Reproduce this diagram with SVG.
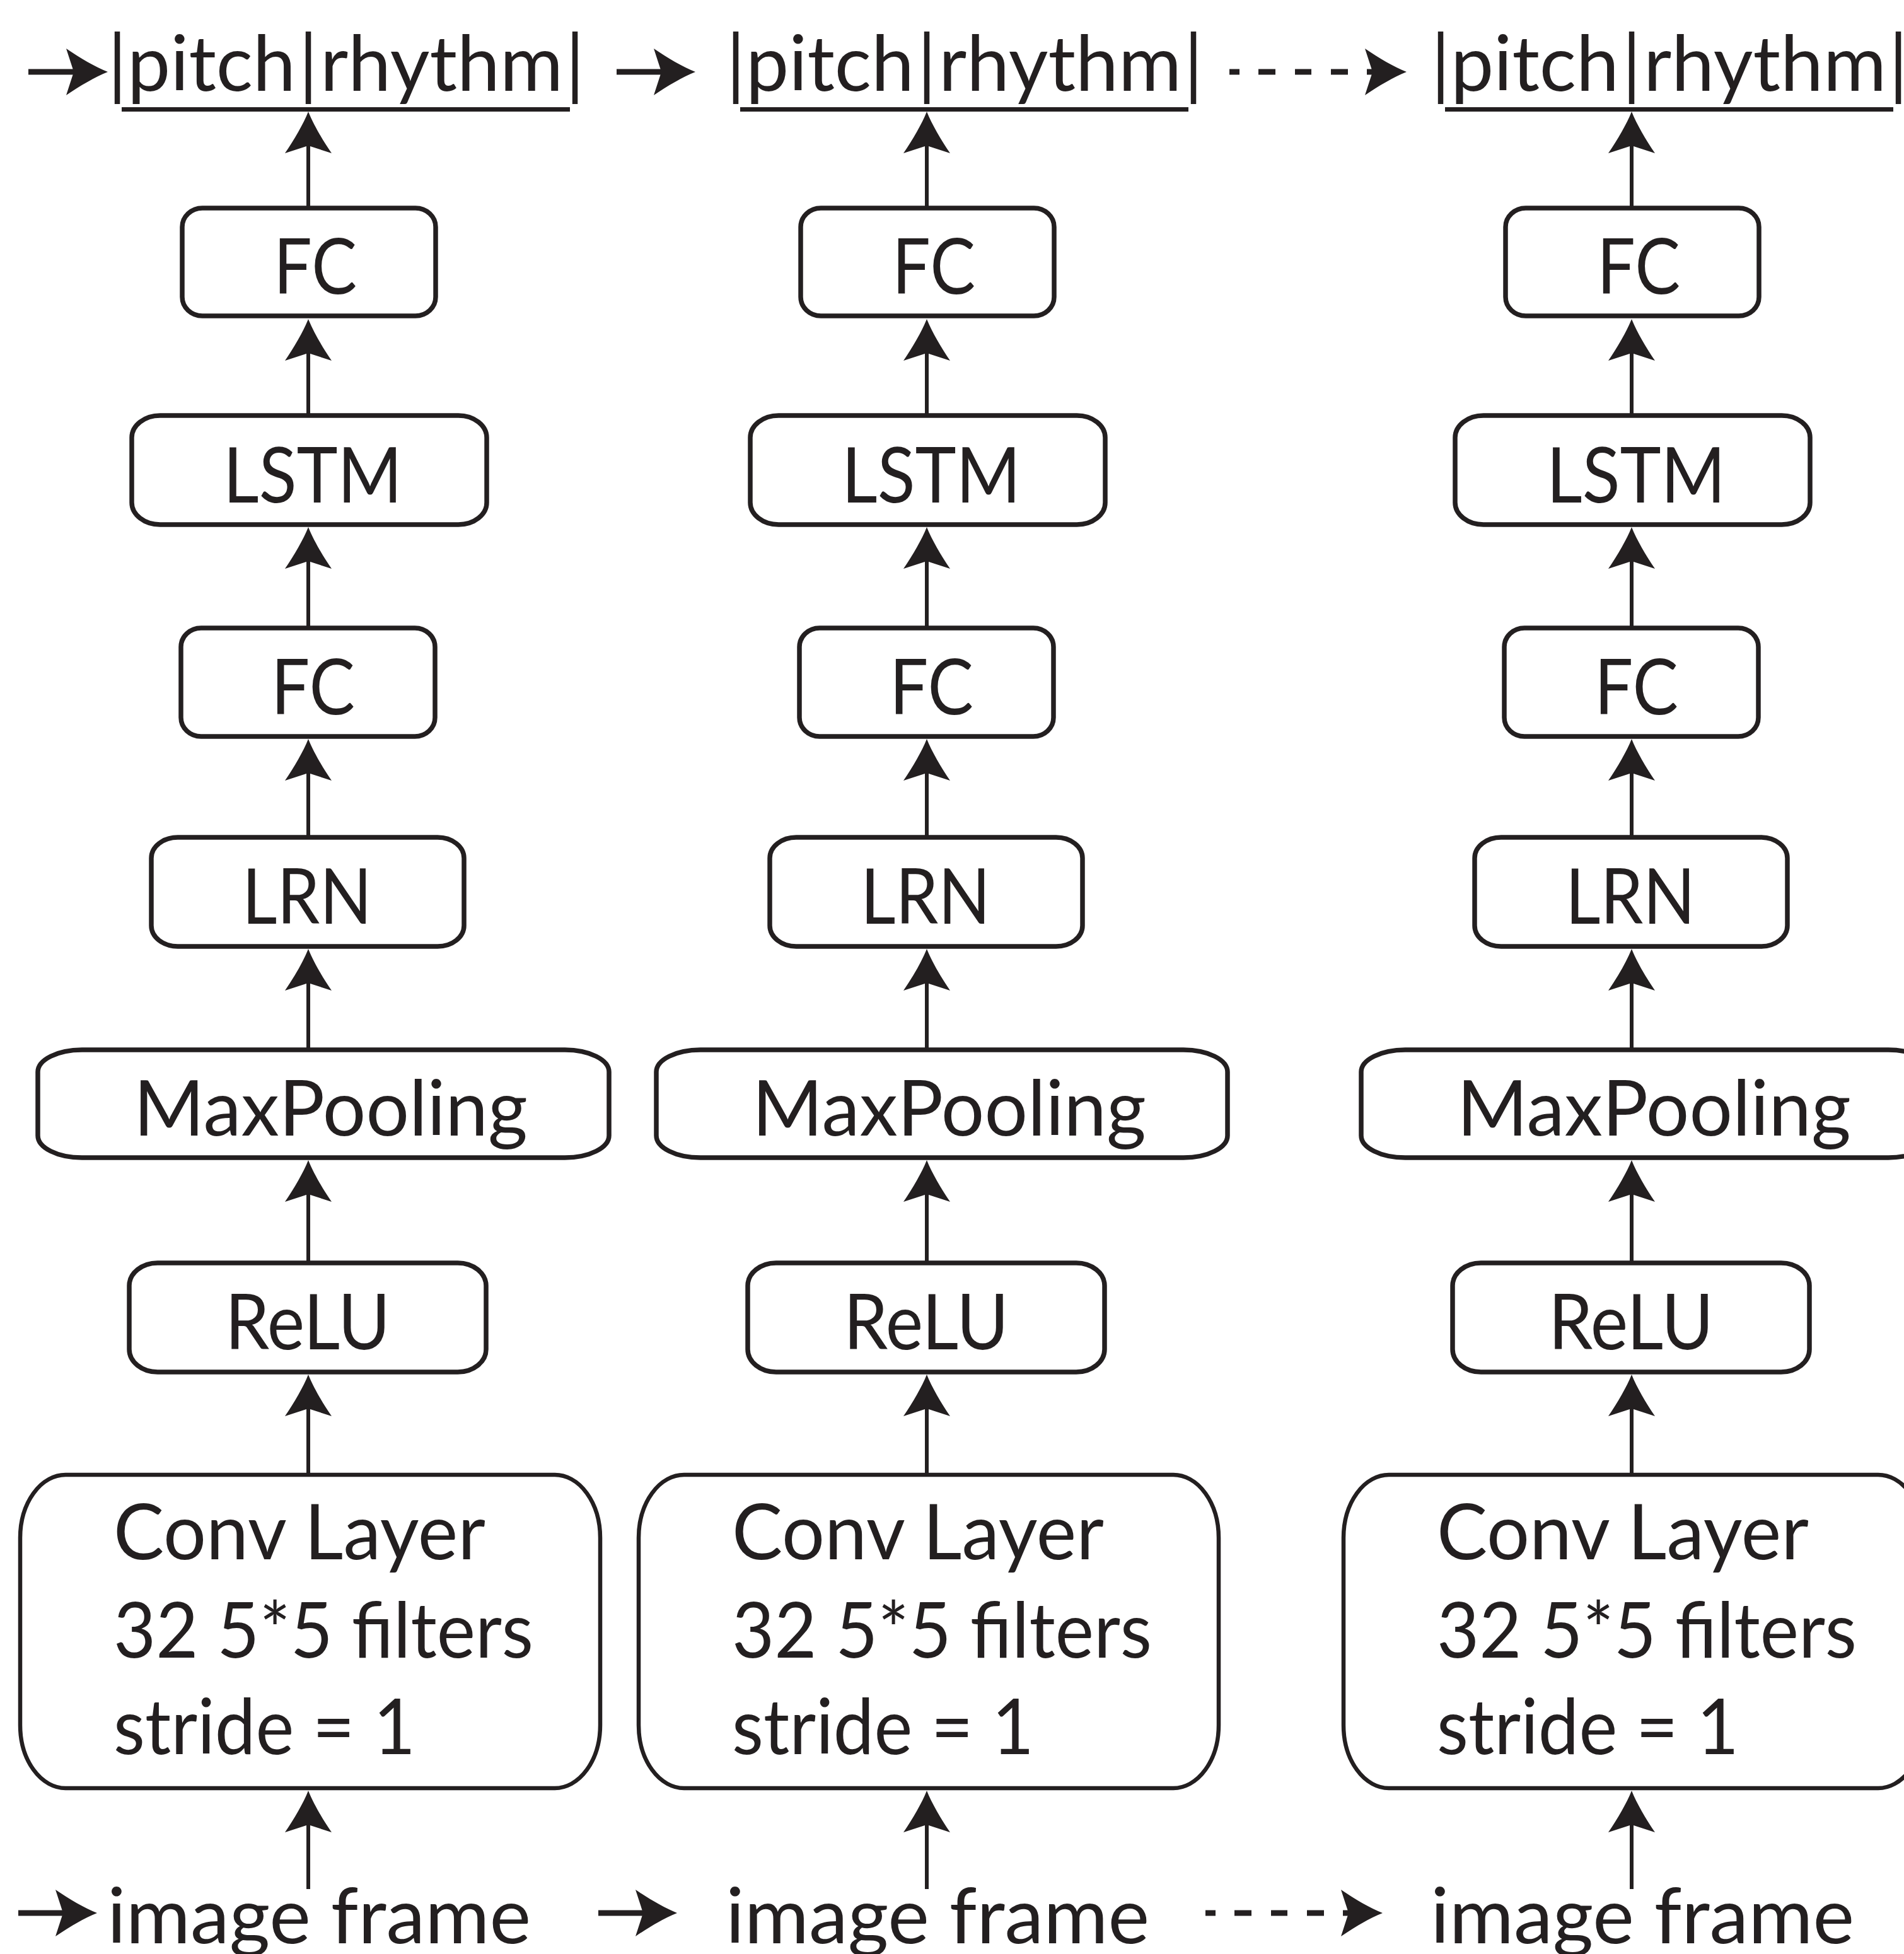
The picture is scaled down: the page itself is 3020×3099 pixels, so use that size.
<svg xmlns="http://www.w3.org/2000/svg" width="3020" height="3099" viewBox="0 0 3020 3099">
<style>
.box{fill:#fff;stroke:#231f20;stroke-width:7.5}
.conv{stroke-width:6.5}
.t{font-family:Lato,"Open Sans","Liberation Sans",sans-serif;font-size:122px;fill:#231f20;text-anchor:middle}
.ts{text-anchor:start}
.conn{stroke:#231f20;stroke-width:6;fill:none;marker-end:url(#ah)}
.h{stroke-width:9}
.dt{stroke-dasharray:16 30 27 31 26 31 27 30 27}
.ul{stroke:#231f20;stroke-width:7}
</style>
<defs>
<marker id="ah" viewBox="-15 -40 75 80" markerWidth="75" markerHeight="80" refX="0" refY="0" orient="auto" markerUnits="userSpaceOnUse">
<path d="M54,0 C34,-8 10,-22 -12,-37 L0,0 L-12,37 C10,22 34,8 54,0 Z" fill="#231f20"/>
</marker>
</defs>
<rect width="3020" height="3099" fill="#fff"/>

<g id="connectors">
<line class="conn h" x1="45" y1="114" x2="117" y2="114"/>
<line class="conn h" x1="978" y1="114" x2="1049" y2="114"/>
<line class="conn h dt" x1="1950" y1="114" x2="2177" y2="114"/>
<line class="conn h" x1="29" y1="3034" x2="100" y2="3034"/>
<line class="conn h" x1="949" y1="3034" x2="1020" y2="3034"/>
<line class="conn h dt" x1="1912" y1="3034" x2="2139" y2="3034"/>
<g id="conn-col1">
<line class="conn" x1="489" y1="330" x2="489" y2="231"/>
<line class="conn" x1="489" y1="659" x2="489" y2="560"/>
<line class="conn" x1="489" y1="996" x2="489" y2="890"/>
<line class="conn" x1="489" y1="1328" x2="489" y2="1226"/>
<line class="conn" x1="489" y1="1665" x2="489" y2="1559"/>
<line class="conn" x1="489" y1="2003" x2="489" y2="1894"/>
<line class="conn" x1="489" y1="2339" x2="489" y2="2234"/>
<line class="conn" x1="489" y1="2996" x2="489" y2="2894"/>
</g>
<g id="conn-col2" transform="translate(981,0)">
<line class="conn" x1="489" y1="330" x2="489" y2="231"/>
<line class="conn" x1="489" y1="659" x2="489" y2="560"/>
<line class="conn" x1="489" y1="996" x2="489" y2="890"/>
<line class="conn" x1="489" y1="1328" x2="489" y2="1226"/>
<line class="conn" x1="489" y1="1665" x2="489" y2="1559"/>
<line class="conn" x1="489" y1="2003" x2="489" y2="1894"/>
<line class="conn" x1="489" y1="2339" x2="489" y2="2234"/>
<line class="conn" x1="489" y1="2996" x2="489" y2="2894"/>
</g>
<g id="conn-col3" transform="translate(2099,0)">
<line class="conn" x1="489" y1="330" x2="489" y2="231"/>
<line class="conn" x1="489" y1="659" x2="489" y2="560"/>
<line class="conn" x1="489" y1="996" x2="489" y2="890"/>
<line class="conn" x1="489" y1="1328" x2="489" y2="1226"/>
<line class="conn" x1="489" y1="1665" x2="489" y2="1559"/>
<line class="conn" x1="489" y1="2003" x2="489" y2="1894"/>
<line class="conn" x1="489" y1="2339" x2="489" y2="2234"/>
<line class="conn" x1="489" y1="2996" x2="489" y2="2894"/>
</g>
</g>

<g id="col1">
<g id="out1"><text class="t" y="144"><tspan x="186">|</tspan><tspan x="335.5" textLength="267" lengthAdjust="spacingAndGlyphs">pitch</tspan><tspan x="489">|</tspan><tspan x="700.5" textLength="385" lengthAdjust="spacingAndGlyphs">rhythm</tspan><tspan x="912">|</tspan></text><line class="ul" x1="193" y1="173.5" x2="904" y2="173.5"/></g>
<g id="fc1a"><rect class="box" x="289" y="330" width="402" height="171" rx="32" ry="30"/><text class="t" x="500" y="466" textLength="132" lengthAdjust="spacingAndGlyphs">FC</text></g>
<g id="lstm1"><rect class="box" x="209" y="659" width="563" height="173" rx="45" ry="35"/><text class="t" x="496" y="797" textLength="284" lengthAdjust="spacingAndGlyphs">LSTM</text></g>
<g id="fc1b"><rect class="box" x="287" y="996" width="403" height="172" rx="32" ry="30"/><text class="t" x="496.5" y="1133" textLength="133" lengthAdjust="spacingAndGlyphs">FC</text></g>
<g id="lrn1"><rect class="box" x="240" y="1328" width="496" height="173" rx="42" ry="33"/><text class="t" x="487" y="1465" textLength="206" lengthAdjust="spacingAndGlyphs">LRN</text></g>
<g id="pool1"><rect class="box" x="60" y="1665" width="906" height="171" rx="70" ry="35"/><text class="t" x="524.5" y="1801" textLength="625" lengthAdjust="spacingAndGlyphs">MaxPooling</text></g>
<g id="relu1"><rect class="box" x="205" y="2003" width="566" height="173" rx="45" ry="36"/><text class="t" x="488" y="2140" textLength="262" lengthAdjust="spacingAndGlyphs">ReLU</text></g>
<g id="conv1"><rect class="box conv" x="32" y="2339" width="920" height="497" rx="72" ry="100"/><text class="t ts" x="180" y="2473" textLength="590" lengthAdjust="spacingAndGlyphs">Conv Layer</text><text class="t ts" x="180" y="2629" textLength="666" lengthAdjust="spacingAndGlyphs">32 5*5 filters</text><text class="t ts" x="180" y="2782" textLength="479" lengthAdjust="spacingAndGlyphs">stride = 1</text></g>
<g id="img1"><text class="t" x="506" y="3082" textLength="672" lengthAdjust="spacingAndGlyphs">image frame</text></g>
</g>

<g id="col2" transform="translate(981,0)">
<g id="out2"><text class="t" y="144"><tspan x="186">|</tspan><tspan x="335.5" textLength="267" lengthAdjust="spacingAndGlyphs">pitch</tspan><tspan x="489">|</tspan><tspan x="700.5" textLength="385" lengthAdjust="spacingAndGlyphs">rhythm</tspan><tspan x="912">|</tspan></text><line class="ul" x1="193" y1="173.5" x2="904" y2="173.5"/></g>
<g id="fc2a"><rect class="box" x="289" y="330" width="402" height="171" rx="32" ry="30"/><text class="t" x="500" y="466" textLength="132" lengthAdjust="spacingAndGlyphs">FC</text></g>
<g id="lstm2"><rect class="box" x="209" y="659" width="563" height="173" rx="45" ry="35"/><text class="t" x="496" y="797" textLength="284" lengthAdjust="spacingAndGlyphs">LSTM</text></g>
<g id="fc2b"><rect class="box" x="287" y="996" width="403" height="172" rx="32" ry="30"/><text class="t" x="496.5" y="1133" textLength="133" lengthAdjust="spacingAndGlyphs">FC</text></g>
<g id="lrn2"><rect class="box" x="240" y="1328" width="496" height="173" rx="42" ry="33"/><text class="t" x="487" y="1465" textLength="206" lengthAdjust="spacingAndGlyphs">LRN</text></g>
<g id="pool2"><rect class="box" x="60" y="1665" width="906" height="171" rx="70" ry="35"/><text class="t" x="524.5" y="1801" textLength="625" lengthAdjust="spacingAndGlyphs">MaxPooling</text></g>
<g id="relu2"><rect class="box" x="205" y="2003" width="566" height="173" rx="45" ry="36"/><text class="t" x="488" y="2140" textLength="262" lengthAdjust="spacingAndGlyphs">ReLU</text></g>
<g id="conv2"><rect class="box conv" x="32" y="2339" width="920" height="497" rx="72" ry="100"/><text class="t ts" x="180" y="2473" textLength="590" lengthAdjust="spacingAndGlyphs">Conv Layer</text><text class="t ts" x="180" y="2629" textLength="666" lengthAdjust="spacingAndGlyphs">32 5*5 filters</text><text class="t ts" x="180" y="2782" textLength="479" lengthAdjust="spacingAndGlyphs">stride = 1</text></g>
<g id="img2"><text class="t" x="506" y="3082" textLength="672" lengthAdjust="spacingAndGlyphs">image frame</text></g>
</g>

<g id="col3" transform="translate(2099,0)">
<g id="out3"><text class="t" y="144"><tspan x="186">|</tspan><tspan x="335.5" textLength="267" lengthAdjust="spacingAndGlyphs">pitch</tspan><tspan x="489">|</tspan><tspan x="700.5" textLength="385" lengthAdjust="spacingAndGlyphs">rhythm</tspan><tspan x="912">|</tspan></text><line class="ul" x1="193" y1="173.5" x2="904" y2="173.5"/></g>
<g id="fc3a"><rect class="box" x="289" y="330" width="402" height="171" rx="32" ry="30"/><text class="t" x="500" y="466" textLength="132" lengthAdjust="spacingAndGlyphs">FC</text></g>
<g id="lstm3"><rect class="box" x="209" y="659" width="563" height="173" rx="45" ry="35"/><text class="t" x="496" y="797" textLength="284" lengthAdjust="spacingAndGlyphs">LSTM</text></g>
<g id="fc3b"><rect class="box" x="287" y="996" width="403" height="172" rx="32" ry="30"/><text class="t" x="496.5" y="1133" textLength="133" lengthAdjust="spacingAndGlyphs">FC</text></g>
<g id="lrn3"><rect class="box" x="240" y="1328" width="496" height="173" rx="42" ry="33"/><text class="t" x="487" y="1465" textLength="206" lengthAdjust="spacingAndGlyphs">LRN</text></g>
<g id="pool3"><rect class="box" x="60" y="1665" width="906" height="171" rx="70" ry="35"/><text class="t" x="524.5" y="1801" textLength="625" lengthAdjust="spacingAndGlyphs">MaxPooling</text></g>
<g id="relu3"><rect class="box" x="205" y="2003" width="566" height="173" rx="45" ry="36"/><text class="t" x="488" y="2140" textLength="262" lengthAdjust="spacingAndGlyphs">ReLU</text></g>
<g id="conv3"><rect class="box conv" x="32" y="2339" width="920" height="497" rx="72" ry="100"/><text class="t ts" x="180" y="2473" textLength="590" lengthAdjust="spacingAndGlyphs">Conv Layer</text><text class="t ts" x="180" y="2629" textLength="666" lengthAdjust="spacingAndGlyphs">32 5*5 filters</text><text class="t ts" x="180" y="2782" textLength="479" lengthAdjust="spacingAndGlyphs">stride = 1</text></g>
<g id="img3"><text class="t" x="506" y="3082" textLength="672" lengthAdjust="spacingAndGlyphs">image frame</text></g>
</g>
</svg>
